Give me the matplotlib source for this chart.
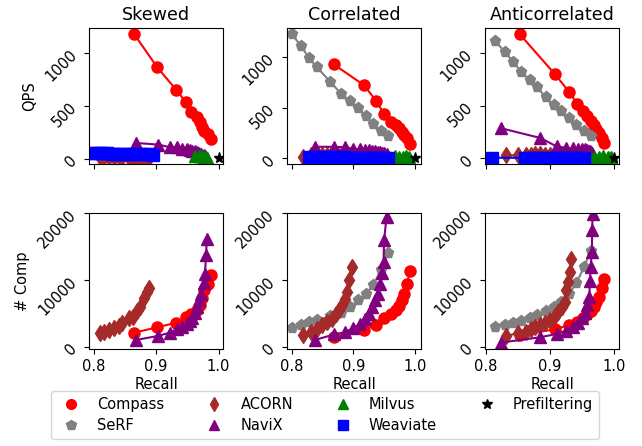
import matplotlib
matplotlib.use("Agg")
import matplotlib.pyplot as plt
from matplotlib.lines import Line2D

plt.rcParams["font.size"] = 10.5

titles = ["Skewed", "Correlated", "Anticorrelated"]
methods = ["Compass", "SeRF", "ACORN", "NaviX", "Milvus", "Weaviate", "Prefiltering"]
colors = ["red", "gray", "brown", "purple", "green", "blue", "black"]
markers = ["o", "p", "d", "^", "^", "s", "*"]

# ---- Skewed ----
skew_compass_recall = [0.865, 0.902, 0.932, 0.948, 0.956, 0.965, 0.970, 0.974, 0.977, 0.983, 0.988]
skew_compass_qps = [1179, 865, 654, 535, 446, 393, 346, 305, 267, 236, 189]
skew_compass_comp = [2170, 2970, 3660, 4460, 4950, 5540, 6290, 7280, 8510, 9400, 10700]

skew_acorn_recall = [0.810, 0.817, 0.824, 0.832, 0.840, 0.845, 0.857, 0.863, 0.869, 0.874, 0.881, 0.885, 0.888]
skew_acorn_qps = [15, 15, 14, 14, 13, 13, 12, 12, 11, 11, 10, 10, 9]
skew_acorn_comp = [2170, 2320, 2570, 2870, 3170, 3570, 4310, 4550, 5440, 6040, 7280, 8260, 8770]

skew_navix_recall = [0.868, 0.903, 0.922, 0.934, 0.941, 0.949, 0.954, 0.958, 0.962, 0.966,
                     0.969, 0.972, 0.976, 0.978, 0.980, 0.981]
skew_navix_qps = [150, 135, 110, 108, 95, 90, 80, 75, 70, 60, 55, 45, 35, 25, 15, 8]
skew_navix_comp = [1085, 1680, 2170, 2670, 3060, 3460, 3960, 4310, 5050, 6040,
                   7030, 7920, 9510, 10890, 13710, 16200]

skew_milvus_recall = [0.963, 0.968, 0.972, 0.976, 0.979, 0.982]
skew_milvus_qps = [30, 28, 25, 22, 18, 12]

skew_weaviate_recall = [0.798, 0.804, 0.810, 0.816, 0.822, 0.829, 0.835, 0.841, 0.848, 0.855,
                        0.861, 0.868, 0.874, 0.881, 0.888, 0.895]
skew_weaviate_qps = [55, 54, 53, 52, 51, 50, 50, 49, 48, 47, 46, 45, 44, 43, 42, 40]

skew_pre_recall = [1.0]
skew_pre_qps = [8]

# ---- Correlated ----
corr_compass_recall = [0.868, 0.917, 0.937, 0.950, 0.962, 0.969, 0.974, 0.979, 0.983, 0.987, 0.992]
corr_compass_qps = [924, 721, 566, 436, 360, 327, 295, 262, 229, 197, 147]
corr_compass_comp = [1500, 2600, 3300, 4300, 5000, 5500, 6200, 7000, 7900, 9400, 11300]

corr_serf_recall = [0.800, 0.815, 0.828, 0.840, 0.862, 0.880, 0.895, 0.908, 0.920, 0.932, 0.945, 0.957]
corr_serf_qps = [1220, 1100, 985, 900, 755, 635, 565, 500, 415, 340, 270, 220]
corr_serf_comp = [2900, 3300, 3700, 4000, 4600, 5100, 6000, 7000, 7900, 9300, 11500, 14000]

corr_acorn_recall = [0.817, 0.830, 0.841, 0.849, 0.857, 0.865, 0.871, 0.876, 0.882, 0.887, 0.890, 0.893, 0.897]
corr_acorn_qps = [15, 30, 35, 32, 30, 28, 26, 24, 22, 20, 18, 16, 14]
corr_acorn_comp = [1750, 2250, 2750, 3250, 3750, 4250, 4900, 5500, 6250, 7250, 8250, 10000, 11900]

corr_navix_recall = [0.838, 0.868, 0.887, 0.900, 0.911, 0.919, 0.926, 0.931, 0.935, 0.940,
                     0.944, 0.946, 0.949, 0.950, 0.954]
corr_navix_qps = [115, 115, 110, 95, 90, 85, 80, 75, 70, 65, 60, 55, 50, 45, 40]
corr_navix_comp = [1100, 1900, 2250, 2900, 3500, 4250, 5000, 6000, 7000, 8000,
                   9400, 11000, 12750, 16000, 19500]

corr_milvus_recall = [0.962, 0.968, 0.975, 0.981, 0.985, 0.990]
corr_milvus_qps = [8, 20, 15, 14, 22, 12]

corr_weaviate_recall = [0.828, 0.836, 0.850, 0.857, 0.864, 0.879, 0.885, 0.891, 0.897, 0.903,
                        0.909, 0.915, 0.921, 0.927, 0.933, 0.939, 0.945, 0.951, 0.957]
corr_weaviate_qps = [12, 12, 11, 11, 10, 10, 10, 9, 9, 9, 8, 8, 8, 7, 7, 7, 6, 6, 5]

corr_pre_recall = [1.0]
corr_pre_qps = [8]

# ---- Anticorrelated ----
anti_compass_recall = [0.853, 0.907, 0.930, 0.942, 0.951, 0.958, 0.963, 0.968, 0.972, 0.976, 0.980, 0.984]
anti_compass_qps = [1180, 804, 630, 520, 450, 400, 360, 320, 280, 240, 194, 146]
anti_compass_comp = [1800, 2670, 3310, 3800, 4310, 4950, 5440, 6040, 6780, 7430, 8770, 10250]

anti_serf_recall = [0.814, 0.830, 0.843, 0.855, 0.868, 0.880, 0.893, 0.906, 0.917, 0.929, 0.941, 0.953, 0.963]
anti_serf_qps = [1120, 1010, 915, 825, 750, 680, 580, 505, 450, 385, 320, 258, 215]
anti_serf_comp = [3060, 3330, 3600, 3950, 4350, 4800, 5450, 6050, 6800, 7900, 9600, 12000, 14400]

anti_acorn_recall = [0.832, 0.850, 0.862, 0.870, 0.877, 0.885, 0.892, 0.900, 0.908, 0.913,
                     0.918, 0.923, 0.925, 0.928, 0.931, 0.932]
anti_acorn_qps = [30, 30, 35, 35, 38, 38, 36, 35, 34, 32, 30, 28, 25, 22, 20, 18]
anti_acorn_comp = [1680, 2080, 2320, 2670, 2970, 3310, 3660, 4060, 4650, 5290,
                   5940, 6780, 8510, 9750, 11230, 13220]

anti_navix_recall = [0.823, 0.885, 0.910, 0.925, 0.936, 0.944, 0.950, 0.955, 0.958, 0.961,
                     0.962, 0.963, 0.965, 0.9655, 0.966, 0.967]
anti_navix_qps = [288, 194, 114, 100, 95, 92, 88, 85, 80, 75, 68, 60, 50, 40, 30, 20]
anti_navix_comp = [680, 1490, 1980, 2470, 3060, 3660, 4310, 5140, 6290, 7520,
                   9900, 11980, 14200, 17430, 19910, 24000]

anti_milvus_recall = [0.960, 0.968, 0.976, 0.983, 0.990, 0.995]
anti_milvus_qps = [10, 15, 18, 20, 15, 10]

anti_weaviate_recall = [0.810, 0.861, 0.867, 0.873, 0.879, 0.885, 0.891, 0.897, 0.903, 0.909,
                        0.915, 0.921, 0.927, 0.933, 0.939, 0.945, 0.952]
anti_weaviate_qps = [6, 6, 6, 6, 5, 5, 5, 5, 5, 5, 5, 4, 4, 4, 4, 4, 4]

anti_pre_recall = [1.0]
anti_pre_qps = [8]

qps_panels = [
    {"Compass": (skew_compass_recall, skew_compass_qps),
     "ACORN": (skew_acorn_recall, skew_acorn_qps),
     "NaviX": (skew_navix_recall, skew_navix_qps),
     "Milvus": (skew_milvus_recall, skew_milvus_qps),
     "Weaviate": (skew_weaviate_recall, skew_weaviate_qps),
     "Prefiltering": (skew_pre_recall, skew_pre_qps)},
    {"Compass": (corr_compass_recall, corr_compass_qps),
     "SeRF": (corr_serf_recall, corr_serf_qps),
     "ACORN": (corr_acorn_recall, corr_acorn_qps),
     "NaviX": (corr_navix_recall, corr_navix_qps),
     "Milvus": (corr_milvus_recall, corr_milvus_qps),
     "Weaviate": (corr_weaviate_recall, corr_weaviate_qps),
     "Prefiltering": (corr_pre_recall, corr_pre_qps)},
    {"Compass": (anti_compass_recall, anti_compass_qps),
     "SeRF": (anti_serf_recall, anti_serf_qps),
     "ACORN": (anti_acorn_recall, anti_acorn_qps),
     "NaviX": (anti_navix_recall, anti_navix_qps),
     "Milvus": (anti_milvus_recall, anti_milvus_qps),
     "Weaviate": (anti_weaviate_recall, anti_weaviate_qps),
     "Prefiltering": (anti_pre_recall, anti_pre_qps)},
]

comp_panels = [
    {"Compass": (skew_compass_recall, skew_compass_comp),
     "ACORN": (skew_acorn_recall, skew_acorn_comp),
     "NaviX": (skew_navix_recall, skew_navix_comp)},
    {"Compass": (corr_compass_recall, corr_compass_comp),
     "SeRF": (corr_serf_recall, corr_serf_comp),
     "ACORN": (corr_acorn_recall, corr_acorn_comp),
     "NaviX": (corr_navix_recall, corr_navix_comp)},
    {"Compass": (anti_compass_recall, anti_compass_comp),
     "SeRF": (anti_serf_recall, anti_serf_comp),
     "ACORN": (anti_acorn_recall, anti_acorn_comp),
     "NaviX": (anti_navix_recall, anti_navix_comp)},
]

xlims = [(0.793, 1.007), (0.792, 1.010), (0.799, 1.007)]


def draw(ax, panel):
    for name, color, marker in zip(methods, colors, markers):
        if name not in panel:
            continue
        x, y = panel[name]
        ax.plot(x, y, color=color, marker=marker, markersize=8)


def main():
    fig, axes = plt.subplots(2, 3, figsize=(6.42, 4.46), dpi=100, sharex="col")
    fig.subplots_adjust(left=0.139, right=0.964, top=0.937, bottom=0.217,
                        wspace=0.48, hspace=0.36)

    for col in range(3):
        top = axes[0, col]
        bot = axes[1, col]
        draw(top, qps_panels[col])
        draw(bot, comp_panels[col])
        top.set_title(titles[col])
        top.set_yticks([0, 500, 1000])
        bot.set_yticks([0, 10000, 20000])
        bot.set_ylim(-300, 20000)
        bot.set_xlim(*xlims[col])
        bot.set_xticks([0.8, 0.9, 1.0])
        bot.set_xlabel("Recall", labelpad=2)
        for ax in (top, bot):
            ax.tick_params(axis="y", labelrotation=45)

    axes[0, 0].set_ylabel("QPS")
    axes[1, 0].set_ylabel("# Comp")

    handles = [Line2D([], [], color=c, marker=m, linestyle="None", markersize=7)
               for c, m in zip(colors, markers)]
    fig.legend(handles, methods, loc="lower center", bbox_to_anchor=(0.506, 0.0),
               ncol=4, columnspacing=2.4, labelspacing=0.4)

    fig.savefig("out.png", dpi=100)


if __name__ == "__main__":
    main()
